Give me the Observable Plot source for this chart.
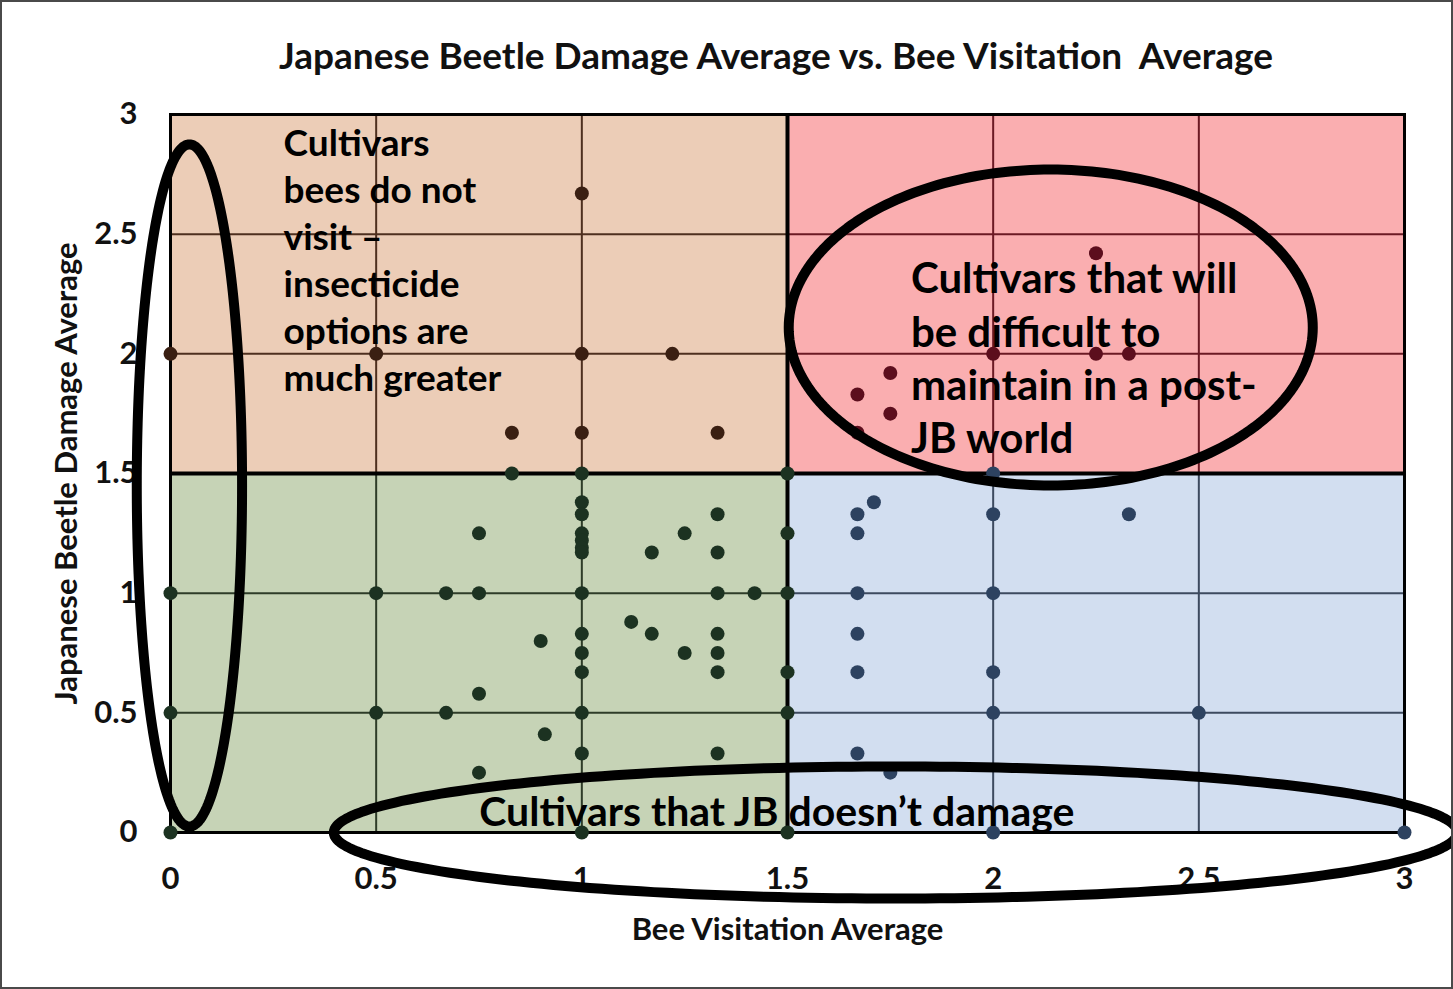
<!DOCTYPE html>
<html>
<head>
<meta charset="utf-8">
<script src="https://cdn.jsdelivr.net/npm/d3@7"></script>
<script src="https://cdn.jsdelivr.net/npm/@observablehq/plot@0.6"></script>
<style>
  body { margin: 0; background: #fff; }
  #wrap { position: relative; width: 1453px; height: 989px; overflow: hidden; background: #fff;
          font-family: Lato, "Open Sans", sans-serif; }
  #title { position: absolute; left: 76px; top: 35px; width: 1400px; text-align: center;
           font-size: 37px; line-height: 40px; font-weight: bold; color: #111; white-space: pre; }
  #chart { position: absolute; left: 0; top: 80px; }
  #border { position: absolute; left: 0; top: 0; width: 1453px; height: 989px; box-sizing: border-box;
            border: 2px solid #4a4a4a; pointer-events: none; }
</style>
</head>
<body>
<div id="wrap">
  <div id="title">Japanese Beetle Damage Average vs. Bee Visitation  Average</div>
  <div id="chart"></div>
  <div id="border"></div>
</div>
<script>
// ---- data ----
const beeVisitation = [
  1, 0, 0.5, 1, 1.22, 0.83, 1, 1.33,
  2.25, 2, 2.25, 2.33, 1.75, 1.67, 1.75, 1.67,
  0.83, 1, 1, 1, 1.33, 0.75, 1, 1, 1, 1, 1.25, 1.17, 1.33, 1.5,
  0, 0.5, 0.67, 0.75, 1, 1.33, 1.42, 1.5,
  1.12, 1.17, 1, 1.33, 0.9, 1, 1.25, 1.33, 1, 1.33, 1.5, 0.75,
  0, 0.5, 0.67, 1, 1.5, 0.91, 1, 1.33, 0.75, 0, 1,
  1.5, 2, 1.71, 1.67, 2, 2.33, 1.67, 1.67, 2, 1.67, 1.67, 2, 2.5, 2, 1.67, 1.75, 1.5, 2, 3
];
const beetleDamage = [
  2.67, 2, 2, 2, 2, 1.67, 1.67, 1.67,
  2.42, 2, 2, 2, 1.92, 1.83, 1.75, 1.67,
  1.5, 1.5, 1.38, 1.33, 1.33, 1.25, 1.25, 1.22, 1.19, 1.17, 1.25, 1.17, 1.17, 1.25,
  1, 1, 1, 1, 1, 1, 1, 1,
  0.88, 0.83, 0.83, 0.83, 0.8, 0.75, 0.75, 0.75, 0.67, 0.67, 0.67, 0.58,
  0.5, 0.5, 0.5, 0.5, 0.5, 0.41, 0.33, 0.33, 0.25, 0, 0,
  1.5, 1.5, 1.38, 1.33, 1.33, 1.33, 1.25, 1, 1, 0.83, 0.67, 0.67, 0.5, 0.5, 0.33, 0.25, 0, 0, 0
];
const xTicks = [0, 0.5, 1, 1.5, 2, 2.5, 3];
const yTicks = [0, 0.5, 1, 1.5, 2, 2.5, 3];
const threshold = 1.5;
const quadrantNames = ["upper-left", "upper-right", "lower-left", "lower-right"];
const quadrantX1 = [0, 1.5, 0, 1.5];
const quadrantX2 = [1.5, 3, 1.5, 3];
const quadrantY1 = [1.5, 1.5, 0, 0];
const quadrantY2 = [3, 3, 1.5, 1.5];

const xLabel = "Bee Visitation Average";
const yLabel = "Japanese Beetle Damage Average";
const noteTexts = [
  "Cultivars\nbees do not\nvisit –\ninsecticide\noptions are\nmuch greater",
  "Cultivars that will\nbe difficult to\nmaintain in a post-\nJB world",
  "Cultivars that JB doesn’t damage"
];
const noteX = [0.275, 1.8, 1.474];
const noteY = [2.40, 1.99, 0.084];
// annotation ellipses (data units): centre, radii
const ellCX = [0.046, 2.14, 1.763];
const ellCY = [1.45, 2.11, 0.0];
const ellRX = [0.128, 0.637, 1.366];
const ellRY = [1.425, 0.66, 0.276];

// ---- styles ----
const FONT = 'Lato, "Open Sans", sans-serif';
const quadFill = {"upper-left": "#eccdb7", "upper-right": "#faaeb0", "lower-left": "#c6d3b6", "lower-right": "#d2def0"};
const quadGrid = {"upper-left": "#4e2f1f", "upper-right": "#6b1a24", "lower-left": "#2e3c28", "lower-right": "#3d4a5f"};
const quadDot = {"upper-left": "#3a1f12", "upper-right": "#5c0e1d", "lower-left": "#1c3221", "lower-right": "#2d4260"};
const quadOf = (x, y) => (y > threshold ? "upper-" : "lower-") + (x > threshold ? "right" : "left");

// ---- build tables ----
const points = beeVisitation.map((x, i) => ({x, y: beetleDamage[i], q: quadOf(beeVisitation[i], beetleDamage[i])}));
const quads = quadrantNames.map((q, i) => ({q, x1: quadrantX1[i], x2: quadrantX2[i], y1: quadrantY1[i], y2: quadrantY2[i]}));
const vGrid = [], hGrid = [];
for (const t of xTicks) for (const [a, b] of [[0, threshold], [threshold, 3]])
  vGrid.push({x: t, y1: a, y2: b, q: quadOf(t, (a + b) / 2)});
for (const t of yTicks) for (const [a, b] of [[0, threshold], [threshold, 3]])
  hGrid.push({y: t, x1: a, x2: b, q: quadOf((a + b) / 2, t)});
const ellipses = [];
ellCX.forEach((cx, k) => {
  for (let i = 0; i <= 240; i++) {
    const a = (i / 240) * 2 * Math.PI;
    ellipses.push({id: k, x: cx + ellRX[k] * Math.cos(a), y: ellCY[k] + ellRY[k] * Math.sin(a)});
  }
});
const notes = noteTexts.map((t, i) => ({t, x: noteX[i], y: noteY[i], i}));

const W = 1453, H = 909;
const chart = Plot.plot({
  width: W, height: H,
  marginLeft: 170, marginRight: 49, marginTop: 34, marginBottom: 157,
  style: {fontFamily: FONT, background: "transparent", overflow: "visible"},
  x: {domain: [0, 3]},
  y: {domain: [0, 3]},
  marks: [
    Plot.rect(quads, {x1: "x1", x2: "x2", y1: "y1", y2: "y2", fill: d => quadFill[d.q]}),
    Plot.ruleX(vGrid, {x: "x", y1: "y1", y2: "y2", stroke: d => quadGrid[d.q], strokeWidth: 2}),
    Plot.ruleY(hGrid, {y: "y", x1: "x1", x2: "x2", stroke: d => quadGrid[d.q], strokeWidth: 2}),
    Plot.ruleX([threshold], {y1: 0, y2: 3, stroke: "#000", strokeWidth: 4}),
    Plot.ruleY([threshold], {x1: 0, x2: 3, stroke: "#000", strokeWidth: 4}),
    Plot.frame({stroke: "#000", strokeWidth: 3}),
    Plot.dot(points, {x: "x", y: "y", r: 7, fill: d => quadDot[d.q], stroke: "none"}),
    Plot.axisX(xTicks, {tickSize: 0, tickPadding: 34, fontSize: 31, fontWeight: "bold", fill: "#111", tickFormat: d => String(d), label: null}),
    Plot.axisY(yTicks, {tickSize: 0, tickPadding: 33, fontSize: 31, fontWeight: "bold", fill: "#111", tickFormat: d => String(d), label: null}),
    Plot.text([xLabel], {frameAnchor: "bottom", dy: 98, lineAnchor: "middle", fontSize: 31, fontWeight: "bold", fill: "#111"}),
    Plot.text([yLabel], {frameAnchor: "left", dx: -103, rotate: -90, textAnchor: "middle", lineAnchor: "middle", fontSize: 31, fontWeight: "bold", fill: "#111"}),
    Plot.line(ellipses, {x: "x", y: "y", z: "id", stroke: "#000", strokeWidth: 10, curve: "linear"}),
    Plot.text(notes.filter(d => d.i < 2), {x: "x", y: "y", text: "t", textAnchor: "start",
      lineAnchor: "middle", lineHeight: 1.27, fontSize: d => d.i === 0 ? 37 : 42, fontWeight: "bold", fill: "#000"}),
    Plot.text(notes.filter(d => d.i === 2), {x: "x", y: "y", text: "t", textAnchor: "middle",
      lineAnchor: "middle", fontSize: 41, fontWeight: "bold", fill: "#000"})
  ]
});
document.getElementById("chart").appendChild(chart);
</script>
</body>
</html>
